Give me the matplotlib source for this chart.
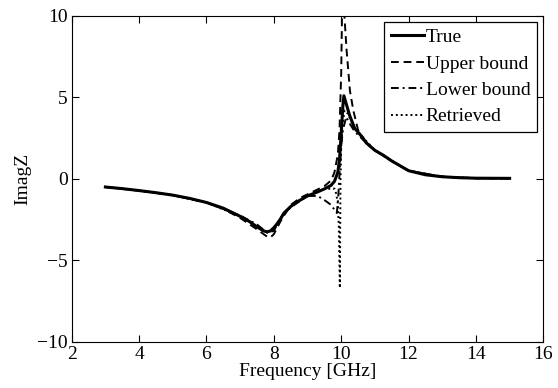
import matplotlib
matplotlib.use('Agg')
import matplotlib.pyplot as plt

# frequency [GHz] and ImagZ values
true_f = [3.0, 3.5, 4.0, 4.5, 5.0, 5.5, 6.0, 6.5, 7.0, 7.3, 7.5, 7.7, 7.8, 7.9, 8.0, 8.1,
          8.2, 8.3, 8.5, 8.7, 9.0, 9.3, 9.5, 9.7, 9.8, 9.9, 9.95, 10.0, 10.05, 10.08,
          10.15, 10.25, 10.4, 10.55, 10.75, 11.0, 11.25, 11.5, 12.0, 12.5, 13.0, 13.5,
          14.0, 15.0]
true_z = [-0.5, -0.6, -0.72, -0.85, -1.0, -1.2, -1.45, -1.8, -2.3, -2.65, -2.95, -3.2,
          -3.25, -3.2, -3.0, -2.75, -2.45, -2.1, -1.7, -1.4, -1.05, -0.8, -0.62, -0.4,
          -0.15, 0.4, 1.2, 2.8, 4.5, 5.1, 4.6, 3.9, 3.1, 2.75, 2.2, 1.75, 1.45, 1.1,
          0.5, 0.25, 0.13, 0.07, 0.04, 0.03]

upper_f = [3.0, 4.0, 5.0, 6.0, 6.5, 7.0, 7.5, 7.8, 7.9, 8.0, 8.2, 8.5, 8.8, 9.2, 9.5,
           9.7, 9.8, 9.9, 9.95, 10.0, 10.03, 10.08, 10.16, 10.26, 10.36, 10.5, 10.75,
           11.0, 11.5, 12.0, 13.0, 14.0, 15.0]
upper_z = [-0.5, -0.72, -1.0, -1.45, -1.85, -2.4, -3.1, -3.55, -3.6, -3.4, -2.6, -1.6,
           -1.15, -0.75, -0.45, -0.1, 0.4, 1.5, 3.0, 6.5, 11.0, 10.5, 7.9, 5.4, 4.2,
           3.0, 2.2, 1.75, 1.1, 0.5, 0.13, 0.04, 0.03]

lower_f = [3.0, 4.0, 5.0, 6.0, 7.0, 7.5, 7.8, 8.0, 8.2, 8.5, 9.0, 9.3, 9.5, 9.7, 9.8,
           9.87, 9.91, 9.95, 10.0, 10.05, 10.15, 10.25, 10.4, 10.6, 10.8, 11.0, 11.5,
           12.0, 13.0, 14.0, 15.0]
lower_z = [-0.5, -0.72, -1.0, -1.45, -2.25, -2.8, -3.3, -3.2, -2.4, -1.75, -1.05, -1.05,
           -1.3, -1.6, -1.9, -2.1, -1.2, 0.3, 2.0, 3.0, 3.8, 3.4, 2.9, 2.5, 2.1, 1.75,
           1.1, 0.5, 0.13, 0.04, 0.03]

retr_f = [3.0, 4.0, 5.0, 6.0, 7.0, 7.5, 7.8, 8.0, 8.2, 8.5, 9.0, 9.5, 9.8, 9.85, 9.9,
          9.93, 9.96, 9.97, 9.98, 10.0, 10.05, 10.1, 10.2, 10.4, 10.55, 11.0, 11.5,
          12.0, 13.0, 14.0, 15.0]
retr_z = [-0.5, -0.72, -1.0, -1.45, -2.3, -2.95, -3.3, -3.05, -2.45, -1.7, -1.05, -0.62,
          -0.6, -0.9, -1.5, -3.0, -6.7, -3.0, 0.0, 2.0, 3.5, 4.2, 4.0, 3.1, 2.75, 1.75,
          1.1, 0.5, 0.13, 0.04, 0.03]

plt.rcParams['font.family'] = ['Liberation Serif', 'DejaVu Serif']
plt.rcParams['font.size'] = 14

fig = plt.figure(figsize=(5.58, 3.88), dpi=100)
ax = fig.add_axes([0.1285, 0.1193, 0.8452, 0.8395])

ax.plot(true_f, true_z, color='black', lw=2.2, ls='-', label='True')
ax.plot(upper_f, upper_z, color='black', lw=1.4, ls=(0, (4, 2.5)), label='Upper bound')
ax.plot(lower_f, lower_z, color='black', lw=1.4, ls=(0, (4, 2, 1, 2)), label='Lower bound')
ax.plot(retr_f, retr_z, color='black', lw=1.4, ls=(0, (1, 1.5)), label='Retrieved')

ax.set_xlim(2, 16)
ax.set_ylim(-10, 10)
ax.set_xticks(range(2, 17, 2))
ax.set_yticks([-10, -5, 0, 5, 10])
ax.tick_params(direction='in', top=True, right=True, length=5, width=0.8, pad=3)
ax.set_xlabel('Frequency [GHz]', labelpad=0)
ax.set_ylabel('ImagZ', labelpad=4)

leg = ax.legend(loc='upper right', bbox_to_anchor=(0.987, 0.982), borderaxespad=0,
                fancybox=False, edgecolor='black', framealpha=1, handlelength=1.7,
                handletextpad=0.1, labelspacing=0.45, borderpad=0.35)
leg.get_frame().set_linewidth(0.9)

fig.savefig('out.png', dpi=100)
